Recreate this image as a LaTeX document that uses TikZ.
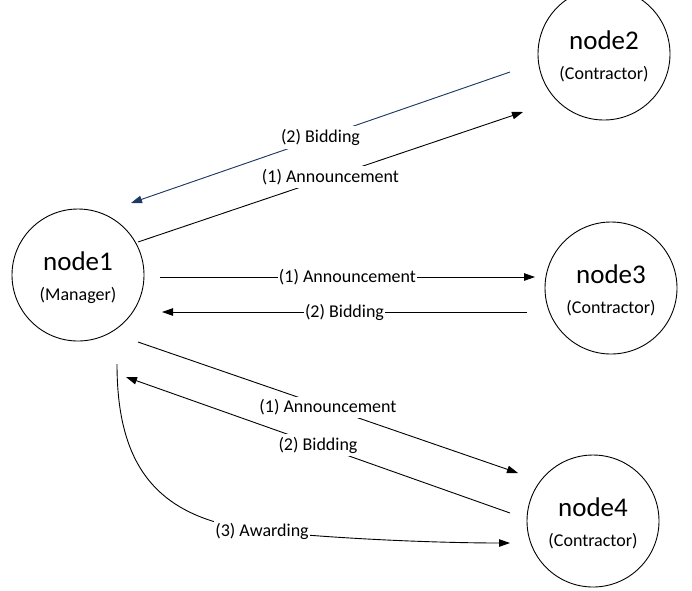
\documentclass[tikz,border=0pt]{standalone}
\usepackage{fontspec}
\setmainfont{Carlito}
\usetikzlibrary{arrows.meta,calc}
\definecolor{bidblue}{RGB}{32,56,100}
\begin{document}
\begin{tikzpicture}[x=1pt,y=-1pt,
  agent/.style={circle,draw,line width=0.9pt,minimum size=132pt,inner sep=0pt},
  title/.style={font=\fontsize{27}{30}\selectfont,inner sep=0pt},
  role/.style={font=\fontsize{18}{21}\selectfont,inner sep=0pt},
  msg/.style={line width=0.9pt,-{Triangle[length=11pt,width=7.5pt]}},
  tag/.style={font=\fontsize{18}{21}\selectfont,fill=white,inner xsep=1pt,inner ysep=3pt}]
\useasboundingbox (0,0) rectangle (692,590);

% agents
\node[agent] (n1) at (78,275) {};
\node[agent] (n2) at (604,54) {};
\node[agent] (n3) at (611,288) {};
\node[agent] (n4) at (593,521) {};

\foreach \n/\t/\r in {n1/node1/Manager,n2/node2/Contractor,n3/node3/Contractor,n4/node4/Contractor}{
  \node[title] (\n t) at ([yshift=14pt]\n.center) {\t};
  \node[role]  (\n r) at ([yshift=-20pt]\n.center) {(\r)};
}

% connector end points
\coordinate (a12s) at (138,242);  \coordinate (a12e) at (523,112);
\coordinate (b21s) at (510,72);   \coordinate (b21e) at (131,203);
\coordinate (a13s) at (160,277);  \coordinate (a13e) at (535,277);
\coordinate (b31s) at (527,312);  \coordinate (b31e) at (162,312);
\coordinate (a14s) at (138,342);  \coordinate (a14e) at (518,473);
\coordinate (b41s) at (510,513);  \coordinate (b41e) at (126,377);
\coordinate (w14s) at (117,364);  \coordinate (w14e) at (510,543);
\coordinate (w14m) at (262,531);

% node2 exchange
\draw[msg] (a12s) -- node[tag] (l12) {(1) Announcement} (a12e);
\draw[msg,draw=bidblue,fill=bidblue] (b21s) -- node[tag,text=black] (l21) {(2) Bidding} (b21e);

% node3 exchange
\draw[msg] (a13s) -- node[tag,inner ysep=0pt] (l13) {(1) Announcement} (a13e);
\draw[msg] (b31s) -- node[tag,inner ysep=0pt] (l31) {(2) Bidding} (b31e);

% node4 exchange
\draw[msg] (a14s) -- node[tag] (l14) {(1) Announcement} (a14e);
\draw[msg] (b41s) -- node[tag] (l41) {(2) Bidding} (b41e);
\draw[msg] (w14s) .. controls (117,470) and (160,520) .. (w14m)
  .. controls (350,540) and (450,543) .. (w14e);
\node[tag] (lw) at (w14m) {(3) Awarding};
\end{tikzpicture}
\end{document}
